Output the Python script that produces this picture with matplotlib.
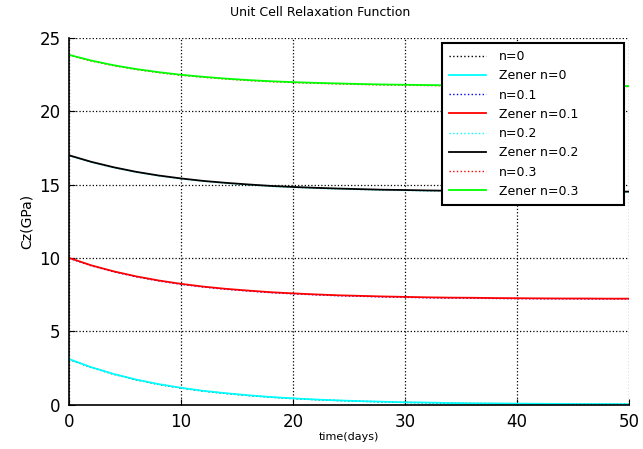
import numpy as np
import matplotlib
matplotlib.use('Agg')
import matplotlib.pyplot as plt

# time axis (days)
t = [0, 2, 4, 6, 8, 10, 12, 14, 16, 18, 20, 22, 24, 26, 28, 30, 32, 34, 36, 38, 40, 42, 44, 46, 48, 50]

# Cz (GPa)
n0 = [3.08, 2.52, 2.06, 1.68, 1.37, 1.12, 0.91, 0.75, 0.61, 0.50, 0.40, 0.33, 0.27, 0.22, 0.18, 0.14, 0.12, 0.09, 0.07, 0.06, 0.05, 0.04, 0.03, 0.03, 0.02, 0.02]
zener_n0 = [3.10, 2.54, 2.08, 1.70, 1.39, 1.14, 0.93, 0.77, 0.63, 0.51, 0.42, 0.34, 0.28, 0.23, 0.19, 0.15, 0.13, 0.10, 0.08, 0.07, 0.06, 0.05, 0.04, 0.03, 0.03, 0.02]
n01 = [9.98, 9.46, 9.05, 8.71, 8.43, 8.20, 8.01, 7.86, 7.74, 7.63, 7.55, 7.48, 7.42, 7.38, 7.34, 7.31, 7.28, 7.26, 7.25, 7.23, 7.22, 7.21, 7.21, 7.20, 7.20, 7.20]
zener_n01 = [10.00, 9.49, 9.08, 8.74, 8.46, 8.23, 8.04, 7.89, 7.77, 7.66, 7.58, 7.51, 7.45, 7.41, 7.37, 7.34, 7.31, 7.29, 7.28, 7.26, 7.25, 7.24, 7.23, 7.23, 7.22, 7.22]
n02 = [16.98, 16.52, 16.15, 15.84, 15.59, 15.39, 15.22, 15.09, 14.98, 14.88, 14.81, 14.75, 14.70, 14.66, 14.62, 14.60, 14.57, 14.55, 14.54, 14.53, 14.52, 14.51, 14.50, 14.50, 14.49, 14.49]
zener_n02 = [17.00, 16.55, 16.18, 15.87, 15.62, 15.42, 15.25, 15.12, 15.01, 14.91, 14.84, 14.78, 14.73, 14.69, 14.65, 14.63, 14.60, 14.58, 14.57, 14.56, 14.55, 14.54, 14.53, 14.53, 14.52, 14.52]
n03 = [23.83, 23.43, 23.11, 22.85, 22.64, 22.46, 22.32, 22.20, 22.10, 22.02, 21.96, 21.91, 21.87, 21.83, 21.80, 21.78, 21.76, 21.74, 21.73, 21.72, 21.71, 21.70, 21.70, 21.69, 21.69, 21.69]
zener_n03 = [23.85, 23.46, 23.14, 22.88, 22.67, 22.49, 22.35, 22.23, 22.13, 22.05, 21.99, 21.94, 21.90, 21.86, 21.83, 21.81, 21.79, 21.77, 21.76, 21.75, 21.74, 21.73, 21.73, 21.72, 21.72, 21.72]

labels = ['n=0', 'Zener n=0', 'n=0.1', 'Zener n=0.1',
          'n=0.2', 'Zener n=0.2', 'n=0.3', 'Zener n=0.3']

plt.rcParams['font.family'] = 'DejaVu Sans'

fig = plt.figure(figsize=(6.43, 4.49), dpi=100)
ax = fig.add_axes([69/643, 1 - 404.5/449, 560/643, 366.5/449])

# matlab-ish draw order: dotted curve first, Zener fit on top
ax.plot(t, n0, ':', color='black', lw=1.0)
ax.plot(t, zener_n0, '-', color='cyan', lw=1.3)
ax.plot(t, n01, ':', color='blue', lw=1.0)
ax.plot(t, zener_n01, '-', color='red', lw=1.3)
ax.plot(t, n02, ':', color='cyan', lw=1.0)
ax.plot(t, zener_n02, '-', color='black', lw=1.3)
ax.plot(t, n03, ':', color='red', lw=1.0)
ax.plot(t, zener_n03, '-', color='lime', lw=1.3)

ax.set_xlim(0, 50)
ax.set_ylim(0, 25)
ax.set_xticks([0, 10, 20, 30, 40, 50])
ax.set_yticks([0, 5, 10, 15, 20, 25])

ax.grid(True, color='black', linestyle=':', linewidth=0.9)
ax.spines['top'].set_visible(False)
ax.spines['right'].set_visible(False)
ax.spines['left'].set_linewidth(1.2)
ax.spines['bottom'].set_linewidth(1.2)
ax.tick_params(direction='in', length=4, labelsize=12, pad=6)

ax.set_xlabel('time(days)', fontsize=8, labelpad=1)
ax.set_ylabel('Cz(GPa)', fontsize=10, labelpad=4)
fig.text(320/643, 1 - 13/449, 'Unit Cell Relaxation Function',
         ha='center', va='center', fontsize=9)

# legend box stretched to the width seen in the reference
leg = ax.legend(labels, loc='upper left', mode='expand',
                bbox_to_anchor=(0.666, 0.0, 0.325, 0.986),
                fontsize=9, handlelength=3.0, handletextpad=1.0,
                labelspacing=0.5, borderpad=0.55, borderaxespad=0,
                fancybox=False, framealpha=1, edgecolor='black')
leg.get_frame().set_linewidth(1.5)

fig.savefig('out.png', dpi=100)
